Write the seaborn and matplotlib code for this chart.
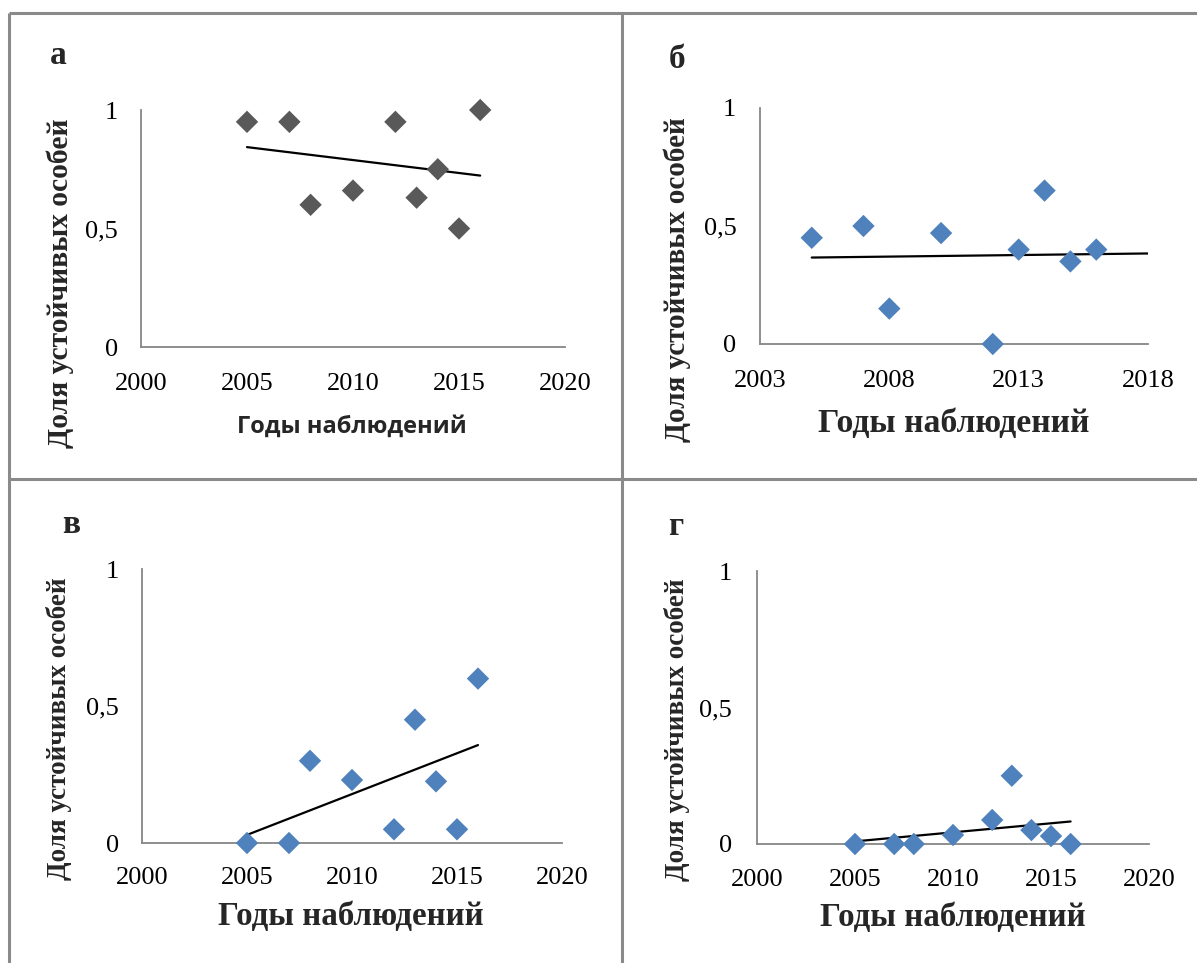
import numpy as np
import matplotlib
matplotlib.use("Agg")
import matplotlib.pyplot as plt
from matplotlib.lines import Line2D
import seaborn as sns

# Observation years and share of resistant individuals in four groups
years = [2005, 2007, 2008, 2010, 2012, 2013, 2014, 2015, 2016]
share_a = [0.95, 0.95, 0.60, 0.66, 0.95, 0.63, 0.75, 0.50, 1.00]
share_b = [0.45, 0.50, 0.15, 0.47, 0.00, 0.40, 0.65, 0.35, 0.40]
share_v = [0.00, 0.00, 0.30, 0.23, 0.05, 0.45, 0.225, 0.05, 0.60]
share_g = [0.00, 0.00, 0.00, 0.033, 0.088, 0.25, 0.051, 0.029, 0.00]

panel_letters = ["а", "б", "в", "г"]
y_ticks = [0, 0.5, 1]
y_tick_labels = ["0", "0,5", "1"]
x_ticks_std = [2000, 2005, 2010, 2015, 2020]
x_ticks_b = [2003, 2008, 2013, 2018]
y_title = "Доля устойчивых особей"
x_title = "Годы наблюдений"

sns.set_style("white")
plt.rcParams["font.family"] = ["Liberation Serif", "DejaVu Serif"]

W, H = 1197, 963
fig = plt.figure(figsize=(W / 100, H / 100), dpi=100)


def fx(px):
    return px / W


def fy(py):
    return 1 - py / H


def make_axes(left, top, right, bottom):
    return fig.add_axes([fx(left), fy(bottom), fx(right) - fx(left), (bottom - top) / H])


AXIS_GREY = "#868686"
BLUE = "#4F81BD"
DARK = "#595959"

panels = [
    dict(box=(141, 110, 565, 347), y=share_a, color=DARK, xlim=(2000, 2020), xt=x_ticks_std,
         ticklen=0, xpad=19, ypad=16.5, fit_end=None,
         xlab=(352, 427), xlab_font=dict(family=["Open Sans", "DejaVu Sans"], size=17, weight="bold"),
         ylab=(60, 283), ylab_size=21.3, letter=(58, 64)),
    dict(box=(760, 108, 1148, 344), y=share_b, color=BLUE, xlim=(2003, 2018), xt=x_ticks_b,
         ticklen=5, xpad=14, ypad=12, fit_end=2018,
         xlab=(954, 423), xlab_font=dict(size=24.3, weight="bold"),
         ylab=(677, 280), ylab_size=21, letter=(677, 68)),
    dict(box=(142, 569, 562, 843), y=share_v, color=BLUE, xlim=(2000, 2020), xt=x_ticks_std,
         ticklen=5, xpad=12.5, ypad=11.5, fit_end=None,
         xlab=(351, 916), xlab_font=dict(size=23.8, weight="bold"),
         ylab=(59, 729), ylab_size=19.5, letter=(71, 533)),
    dict(box=(757, 571, 1149, 844), y=share_g, color=BLUE, xlim=(2000, 2020), xt=x_ticks_std,
         ticklen=5, xpad=13, ypad=13, fit_end=None,
         xlab=(953, 917), xlab_font=dict(size=23.8, weight="bold"),
         ylab=(677, 730), ylab_size=19.5, letter=(676, 535)),
]

for p, letter in zip(panels, panel_letters):
    ax = make_axes(*p["box"])
    ax.set_facecolor("none")
    sns.scatterplot(x=years, y=p["y"], ax=ax, marker="D", s=130, color=p["color"],
                    edgecolor="none", clip_on=False, zorder=3)
    if p["fit_end"] is None:
        sns.regplot(x=years, y=p["y"], ax=ax, scatter=False, ci=None, truncate=True,
                    line_kws=dict(color="black", lw=1.6, zorder=2))
    else:
        slope, icpt = np.polyfit(years, p["y"], 1)
        xs = np.array([years[0], p["fit_end"]])
        sns.lineplot(x=xs, y=slope * xs + icpt, ax=ax, color="black", lw=1.6, zorder=2)

    ax.set_xlim(*p["xlim"])
    ax.set_ylim(0, 1)
    ax.set_xticks(p["xt"])
    ax.set_xticklabels([str(t) for t in p["xt"]])
    ax.set_yticks(y_ticks)
    ax.set_yticklabels(y_tick_labels)
    for side in ("top", "right"):
        ax.spines[side].set_visible(False)
    for side in ("left", "bottom"):
        ax.spines[side].set_color(AXIS_GREY)
        ax.spines[side].set_linewidth(1.3)
    ax.tick_params(axis="both", colors=AXIS_GREY, labelcolor="black", labelsize=19,
                   length=p["ticklen"], width=1.3, direction="out")
    ax.tick_params(axis="x", pad=p["xpad"])
    ax.tick_params(axis="y", pad=p["ypad"])

    ax.set_xlabel(x_title, va="center", **p["xlab_font"])
    ax.xaxis.set_label_coords(fx(p["xlab"][0]), fy(p["xlab"][1]), transform=fig.transFigure)
    ax.set_ylabel(y_title, va="center", fontsize=p["ylab_size"], fontweight="bold")
    ax.yaxis.set_label_coords(fx(p["ylab"][0]), fy(p["ylab"][1]), transform=fig.transFigure)

    fig.text(fx(p["letter"][0]), fy(p["letter"][1]), letter, ha="center", va="baseline",
             fontsize=24, fontweight="bold")

# Panel frame lines
FRAME = "#8a8a8a"
frame_lw = 2.2
for (x0, y0, x1, y1) in [(9, 13, W, 13), (9, 13, 9, H), (622, 13, 622, H), (9, 479, W, 479)]:
    fig.add_artist(Line2D([fx(x0), fx(x1)], [fy(y0), fy(y1)], transform=fig.transFigure,
                          color=FRAME, lw=frame_lw, solid_capstyle="butt"))

fig.savefig("out.png", dpi=100)
